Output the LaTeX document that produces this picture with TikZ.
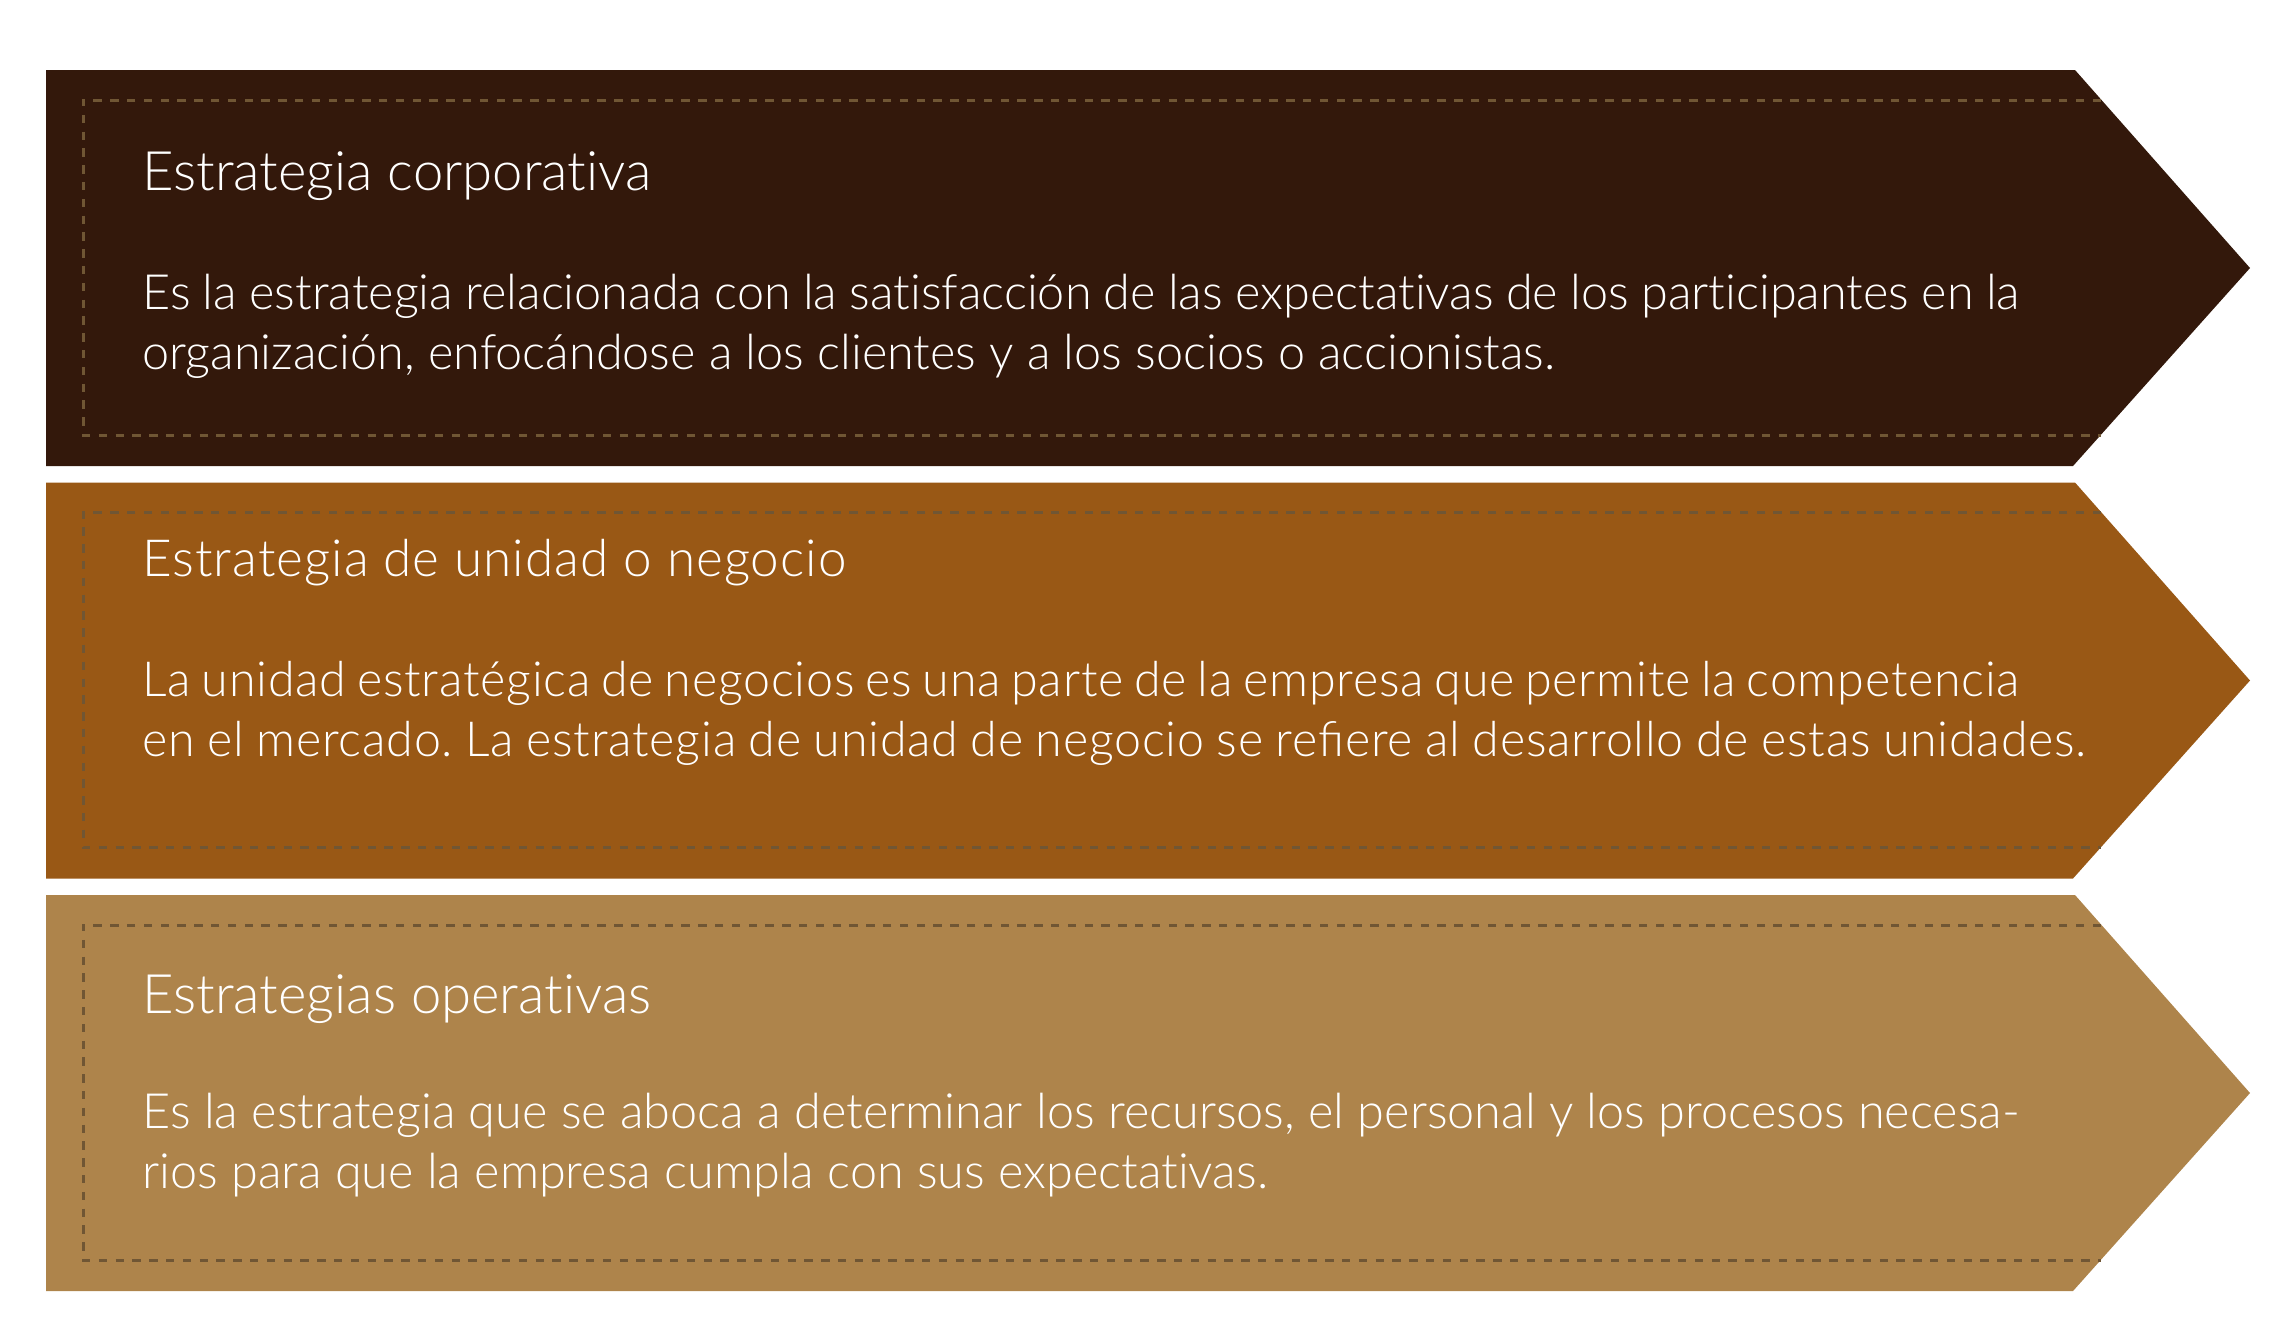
\documentclass[tikz,border=0pt]{standalone}
\usepackage{fontspec}
\setmainfont{Lato}[UprightFont=* Light, Ligatures=NoCommon]
\definecolor{cA}{RGB}{51,24,11}
\definecolor{cB}{RGB}{153,88,21}
\definecolor{cC}{RGB}{174,132,75}
\definecolor{dash}{RGB}{112,86,52}
\tikzset{
  frame/.style={draw=dash, line width=1.5pt, dash pattern=on 4.2pt off 4.2pt},
  ttl/.style={anchor=base west, inner sep=0pt, text=white, font=\fontsize{27.2pt}{32pt}\selectfont},
  ttlsp/.style={ttl, font=\fontsize{25.6pt}{32pt}\selectfont\addfontfeature{LetterSpace=2}},
  bdy/.style={anchor=base west, inner sep=0pt, text=white, font=\fontsize{24.3pt}{30pt}\selectfont\frenchspacing},
  bdysp/.style={bdy, font=\fontsize{24.2pt}{30pt}\selectfont\frenchspacing\addfontfeature{LetterSpace=1.6}},
}
\newcommand{\jline}[1]{\makebox[938.5pt][s]{#1}}
\begin{document}
\begin{tikzpicture}[x=0.5pt,y=-0.5pt]
\useasboundingbox (0,0) rectangle (2275,1341);
\foreach \t/\c in {70/cA, 482.5/cB, 895/cC}{
  \fill[\c] (46,\t) -- (2075,\t) -- (2250,\t+198) -- (2073,\t+396) -- (46,\t+396) -- cycle;
  \draw[frame] (2101,\t+30) -- (83,\t+30) -- (83,\t+365) -- (2101,\t+365);
}
% Box 1
\node[ttl] (t1) at (142,190) {Estrategia corporativa};
\node[bdy] (b1a) at (142,309) {\jline{Es la estrategia relacionada con la satisfacción de las expectativas de los participantes en la}};
\node[bdy] (b1b) at (142,369) {organización, enfocándose a los clientes y a los socios o accionistas.};
% Box 2
\node[ttlsp] (t2) at (142,576) {Estrategia de unidad o negocio};
\node[bdysp] (b2a) at (142,696) {\jline{La unidad estratégica de negocios es una parte de la empresa que permite la competencia}};
\node[bdysp] (b2b) at (142,756) {\makebox[972pt][s]{en el mercado. La estrategia de unidad de negocio se re^^^^fb01ere al desarrollo de estas unidades.}};
% Box 3
\node[ttl] (t3) at (142,1013) {Estrategias operativas};
\node[bdy] (b3a) at (142,1128) {\jline{Es la estrategia que se aboca a determinar los recursos, el personal y los procesos necesa-}};
\node[bdy] (b3b) at (142,1188) {rios para que la empresa cumpla con sus expectativas.};
\end{tikzpicture}
\end{document}
